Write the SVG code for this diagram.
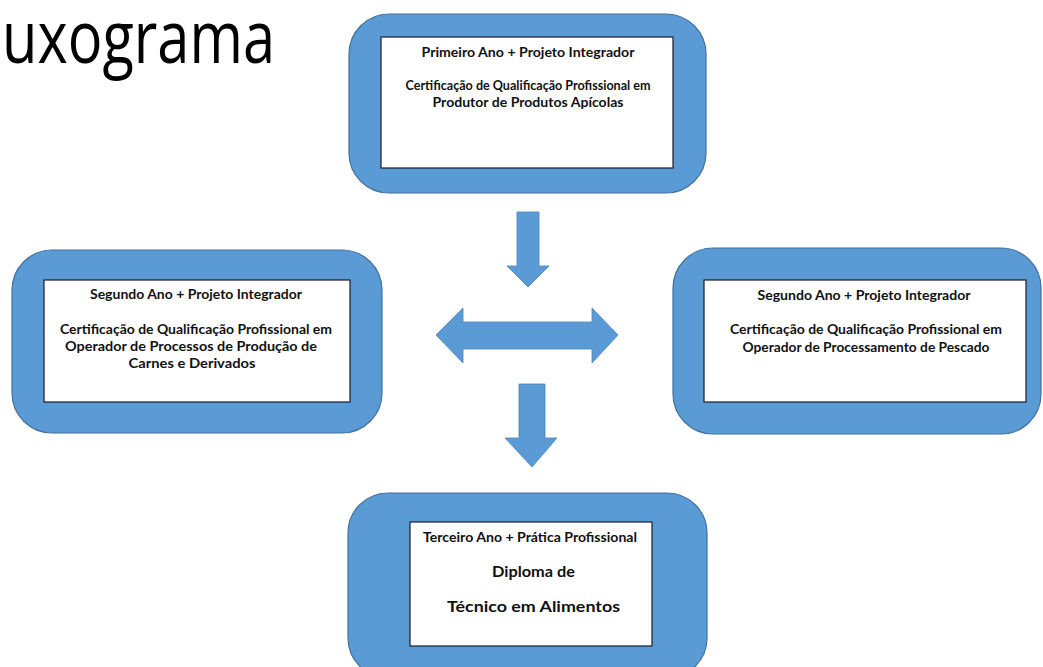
<svg xmlns="http://www.w3.org/2000/svg" width="1043" height="667" viewBox="0 0 1043 667">
  <style>
    .outer { fill: #5b9bd5; stroke: #41719c; stroke-width: 1.2; }
    .inner { fill: #ffffff; stroke: #1a1a2e; stroke-width: 1.2; }
    .arrow { fill: #5b9bd5; stroke: #4a86bf; stroke-width: 0.8; }
    .t { font-family: Lato, "Open Sans", "Liberation Sans", sans-serif; font-weight: 700; fill: #111111; text-anchor: middle; }
    .h { font-size: 12.5px; }
    .m { font-size: 14px; }
    .title { font-family: "Open Sans", "Liberation Sans", sans-serif; font-size: 74px; fill: #000000; }
  </style>
  <rect width="1043" height="667" fill="#ffffff"/>
  <text class="title" x="2" y="63" textLength="273" lengthAdjust="spacingAndGlyphs">uxograma</text>

  <g id="node-primeiro">
    <rect class="outer" x="349" y="14" width="357" height="179" rx="40" ry="40"/>
    <rect class="inner" x="381" y="37" width="292" height="131"/>
    <text class="t h" x="528" y="57" textLength="213" lengthAdjust="spacingAndGlyphs">Primeiro Ano + Projeto Integrador</text>
    <text class="t h" x="528" y="90" textLength="245" lengthAdjust="spacingAndGlyphs">Certificação de Qualificação Profissional em</text>
    <text class="t h" x="528" y="107" textLength="191" lengthAdjust="spacingAndGlyphs">Produtor de Produtos Apícolas</text>
  </g>

  <g id="node-segundo-carnes">
    <rect class="outer" x="12" y="250" width="370" height="183" rx="40" ry="40"/>
    <rect class="inner" x="44" y="280" width="306" height="122"/>
    <text class="t h" x="196" y="299" textLength="212" lengthAdjust="spacingAndGlyphs">Segundo Ano + Projeto Integrador</text>
    <text class="t m" x="196" y="334" textLength="272" lengthAdjust="spacingAndGlyphs">Certificação de Qualificação Profissional em</text>
    <text class="t m" x="191" y="351" textLength="252" lengthAdjust="spacingAndGlyphs">Operador de Processos de Produção de</text>
    <text class="t m" x="192" y="368" textLength="127" lengthAdjust="spacingAndGlyphs">Carnes e Derivados</text>
  </g>

  <g id="node-segundo-pescado">
    <rect class="outer" x="673" y="248" width="368" height="186" rx="40" ry="40"/>
    <rect class="inner" x="704" y="280" width="322" height="122"/>
    <text class="t h" x="864" y="300" textLength="213" lengthAdjust="spacingAndGlyphs">Segundo Ano + Projeto Integrador</text>
    <text class="t m" x="866" y="334" textLength="272" lengthAdjust="spacingAndGlyphs">Certificação de Qualificação Profissional em</text>
    <text class="t m" x="866" y="352" textLength="247" lengthAdjust="spacingAndGlyphs">Operador de Processamento de Pescado</text>
  </g>

  <g id="node-terceiro">
    <rect class="outer" x="348" y="493" width="359" height="185" rx="40" ry="40"/>
    <rect class="inner" x="410" y="522" width="242" height="124"/>
    <text class="t h" x="530" y="542" textLength="214" lengthAdjust="spacingAndGlyphs">Terceiro Ano + Prática Profissional</text>
    <text class="t" x="533.5" y="577" font-size="16" textLength="83" lengthAdjust="spacingAndGlyphs">Diploma de</text>
    <text class="t" x="533.5" y="612" font-size="16" textLength="173" lengthAdjust="spacingAndGlyphs">Técnico em Alimentos</text>
  </g>

  <g id="connectors">
    <polygon class="arrow" points="517,212 539,212 539,266 549,266 528,287 507,266 517,266"/>
    <polygon class="arrow" points="436,335 463,308 463,322 592,322 592,308 618,335 592,363 592,349 463,349 463,363"/>
    <polygon class="arrow" points="519,384 545,384 545,438 557,438 532,467 505,438 519,438"/>
  </g>
</svg>
